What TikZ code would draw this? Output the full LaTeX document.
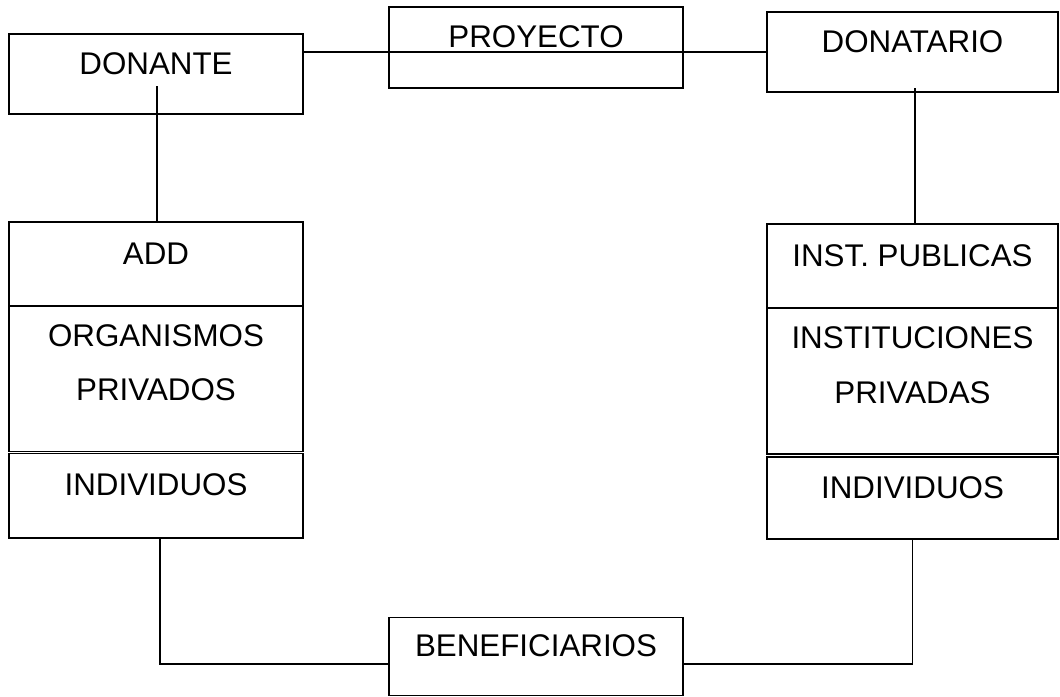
\documentclass[tikz,border=0pt]{standalone}
\usepackage{fontspec}
\setmainfont{Liberation Sans}
\begin{document}
\begin{tikzpicture}[x=0.75pt,y=-0.75pt,
        caja/.style={draw,line width=1.3pt,inner sep=0pt,minimum width=220.5pt,
            font=\fontsize{23.5}{41}\selectfont,text height=12pt,text depth=12pt},
        doble/.style={caja,align=center,text height=45pt,text depth=12pt},
        linea/.style={line width=0.9pt}]
    \useasboundingbox (0,0) rectangle (1060,696);

    \node[caja,minimum height=60pt] (donante) at (156,74) {DONANTE};
    \node[caja,minimum height=60.75pt] (proyecto) at (536,47.5) {PROYECTO};
    \node[caja,minimum width=218.25pt,minimum height=60pt] (donatario) at (912.5,52) {DONATARIO};

    \node[caja,minimum height=63pt] (add) at (156,264) {ADD};
    \node[doble,minimum height=109pt] (orgpriv) at (156,378.75) {ORGANISMOS\\PRIVADOS};
    \node[caja,minimum height=63.4pt] (indiv) at (156,495.75) {INDIVIDUOS};

    \node[caja,minimum width=218.25pt,minimum height=63pt] (instpub) at (912.5,266) {INST. PUBLICAS};
    \node[doble,minimum width=218.25pt,minimum height=109.5pt] (instpriv) at (912.5,381) {INSTITUCIONES\\PRIVADAS};
    \node[caja,minimum width=218.25pt,minimum height=61.5pt] (indivd) at (912.5,498) {INDIVIDUOS};

    \node[caja,minimum height=58.5pt] (benef) at (536,656.5) {BENEFICIARIOS};

    \coordinate (donante-pie) at ([xshift=0.75pt,yshift=-9pt]donante.center);
    \coordinate (donatario-pie) at ([xshift=1.9pt,yshift=-27pt]donatario.center);

    \draw[linea] (donatario.west) -- (donatario.west -| donante.east);
    \draw[linea] (donante-pie) -- (donante-pie |- add.north);
    \draw[linea] (donatario-pie) -- (donatario-pie |- instpub.north);
    \draw[linea] ([xshift=3pt]indiv.south) |- ([yshift=-5.6pt]benef.west);
    \draw[linea] (indivd.south) |- ([yshift=-5.6pt]benef.east);
\end{tikzpicture}
\end{document}
